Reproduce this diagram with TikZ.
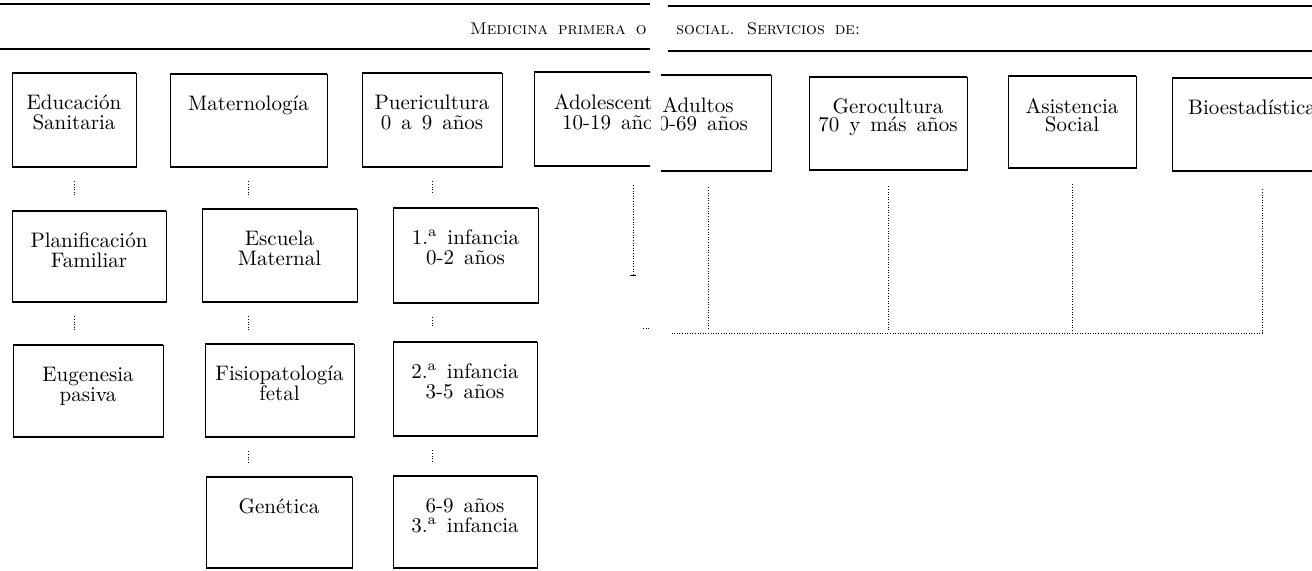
\documentclass[tikz,border=0pt]{standalone}
\usetikzlibrary{fit}

\tikzset{
	orgpicture/.style = {
		x = 0.5pt,
		y = -0.5pt,
		font = \fontsize{10.5}{10}\selectfont,
		execute at begin node = {\spaceskip=5pt\relax},
		link/.style = {
			draw,
			line width = 0.4pt,
			dash pattern = on 0.4pt off 0.9pt,
		}
	},
	unit/.style = {
		draw,
		line width = 0.35pt,
		inner sep = 0pt
	},
	unit-text/.style = {
		anchor = north,
		align = center,
		inner sep = 0pt,
		yshift = -11pt
	},
	unit-edge/.style = {
		line width = 0.9pt
	},
	heading/.style = {
		font = \fontsize{8.5}{8.5}\selectfont\scshape,
		inner sep = 0pt
	},
	page-rule/.style = {
		line width = 0.7pt
	}
}

\begin{document}
\begin{tikzpicture}[orgpicture]
	\useasboundingbox (0,0) rectangle (1312,571);

	% left page
	\begin{scope}
		\clip (0,0) rectangle (650,571);
		\draw[page-rule] (0,4) -- (650,4);
		\draw[page-rule] (0,49) -- (650,49);
		\node[heading, anchor = base east] (headL) at (647,35) {Medicina primera o};

		\node[unit, fit = {(12,73) (136,167)}, label = {[unit-text]north:Educación\\Sanitaria}] (edu) {};
		\node[unit, fit = {(170,74) (327,167)}, label = {[unit-text]north:Maternología}] (mat) {};
		\node[unit, fit = {(362,73) (502,167)}, label = {[unit-text]north:Puericultura\\0 a 9 años}] (pueri) {};
		\node[unit, fit = {(534,72) (690,166)}, label = {[unit-text]north:Adolescentes\\10-19 años}] (adol) {};

		\node[unit, fit = {(12,211) (166,302)}, label = {[unit-text]north:Planificación\\Familiar}] (plan) {};
		\node[unit, fit = {(202,209) (357,302)}, label = {[unit-text]north:Escuela\\Maternal}] (escu) {};
		\node[unit, fit = {(393,208) (538,303)}, label = {[unit-text]north:1.\textsuperscript{a} infancia\\0-2 años}] (inf1) {};

		\node[unit, fit = {(13,345) (163,437)}, label = {[unit-text]north:Eugenesia\\pasiva}] (eug) {};
		\node[unit, fit = {(205,344) (354,437)}, label = {[unit-text]north:Fisiopatología\\fetal}] (fisio) {};
		\node[unit, fit = {(393,342) (537,436)}, label = {[unit-text]north:2.\textsuperscript{a} infancia\\3-5 años}] (inf2) {};

		\node[unit, fit = {(206,477) (352,568)}, label = {[unit-text]north:Genética}] (gene) {};
		\node[unit, fit = {(393,476) (537,568)}, label = {[unit-text]north:6-9 años\\3.\textsuperscript{a} infancia}] (inf3) {};

		\foreach \b in {edu,mat,pueri,adol,plan,escu,inf1,eug,fisio,inf2,gene,inf3}
			\draw[unit-edge] (\b.north west) -- (\b.north east) (\b.south west) -- (\b.south east);

		\begin{scope}[every path/.style = {link, shorten <= 7pt, shorten >= 7pt}]
			\path (edu.south) -- (edu.south |- plan.north);
			\path (plan.south -| edu.south) -- (edu.south |- eug.north);
			\path (mat.south) -- (mat.south |- escu.north);
			\path (escu.south -| mat.south) -- (mat.south |- fisio.north);
			\path (fisio.south -| mat.south) -- (mat.south |- gene.north);
			\path (pueri.south) -- (pueri.south |- inf1.north);
			\path (inf1.south -| pueri.south) -- (pueri.south |- inf2.north);
			\path (inf2.south -| pueri.south) -- (pueri.south |- inf3.north);
		\end{scope}

		\coordinate (adolfoot) at (633,275);
		\coordinate (barL) at (643,328);
		\draw[link, shorten <= 9.5pt] (adolfoot |- adol.south) -- (adolfoot);
		\draw[line width = 0.3pt] (adolfoot) ++(-3,0) -- ++(6,0);
		\draw[link] (barL) -- ++(8,0);
	\end{scope}

	% right page
	\begin{scope}[font = \fontsize{10.5}{9}\selectfont]
		\clip (661,0) rectangle (1312,571);
		\draw[page-rule] (668,6) -- (1312,6);
		\draw[page-rule] (668,51) -- (1312,51);
		\node[heading, anchor = base west] (headR) at (676,35) {social. Servicios de:};

		\node[unit, fit = {(645,75) (771,171)}, label = {[unit-text, xshift = -5pt]north:Adultos\\20-69 años}] (adul) {};
		\node[unit, fit = {(809,77) (967,170)}, label = {[unit-text]north:Gerocultura\\70 y más años}] (gero) {};
		\node[unit, fit = {(1008,76) (1136,168)}, label = {[unit-text]north:Asistencia\\Social}] (asis) {};
		\node[unit, fit = {(1172,78) (1352,171)}, label = {[unit-text, xshift = -5pt]north:Bioestadística}] (bio) {};

		\foreach \b in {adul,gero,asis,bio}
			\draw[unit-edge] (\b.north west) -- (\b.north east) (\b.south west) -- (\b.south east);

		\coordinate (bar) at (672,333);
		\begin{scope}[every path/.style = {link, shorten <= 8pt, shorten >= 1.5pt}]
			\path (adul.south) -- (adul.south |- bar);
			\path (gero.south) -- (gero.south |- bar);
			\path (asis.south) -- (asis.south |- bar);
		\end{scope}
		\draw[link, shorten <= 9pt] (bio.south) |- (bar);
	\end{scope}
\end{tikzpicture}
\end{document}
